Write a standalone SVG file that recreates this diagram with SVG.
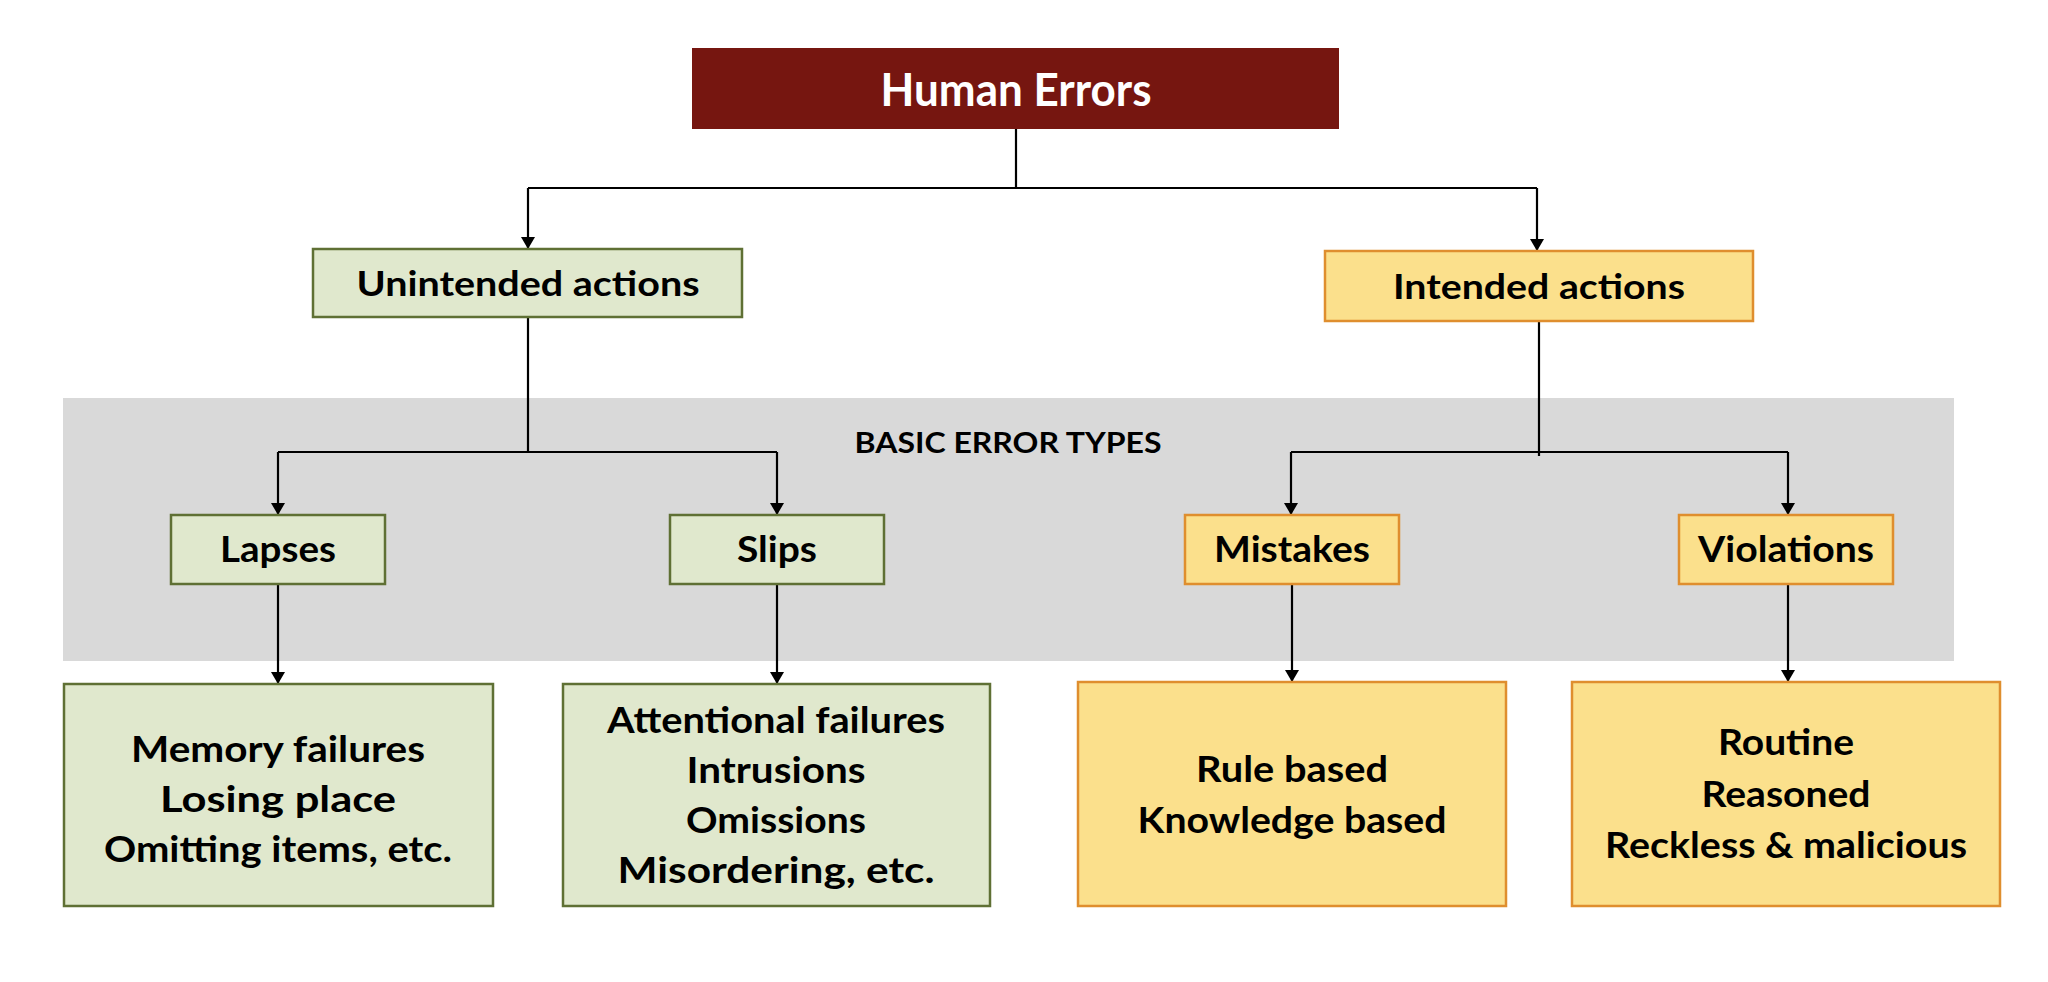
<svg xmlns="http://www.w3.org/2000/svg" width="2048" height="982" viewBox="0 0 2048 982">
<style>
.t{font-family:Lato,"Open Sans","Liberation Sans",sans-serif;font-weight:bold;fill:#000;text-anchor:middle}
.g{fill:#e0e8cd;stroke:#5f7034;stroke-width:2.5}
.y{fill:#fbe08c;stroke:#df8e2e;stroke-width:2.5}
.c{fill:none;stroke:#000;stroke-width:2.2}
</style>
<defs>
<marker id="ah" viewBox="0 0 12 14" refX="12" refY="7" markerWidth="12" markerHeight="14" markerUnits="userSpaceOnUse" orient="auto">
<path d="M0,0 L12,7 L0,14 z" fill="#000"/>
</marker>
</defs>
<rect width="2048" height="982" fill="#fff"/>
<g id="band">
<rect x="63" y="398" width="1891" height="263" fill="#d9d9d9"/>
<text class="t" x="1008" y="453" font-size="29" textLength="307" lengthAdjust="spacingAndGlyphs">BASIC ERROR TYPES</text>
</g>
<g id="connectors">
<path class="c" d="M1016,129 V188 M528,188 H1537"/>
<path class="c" d="M528,188 V249" marker-end="url(#ah)"/>
<path class="c" d="M1537,188 V251" marker-end="url(#ah)"/>
<path class="c" d="M528,317 V452 M278,452 H777"/>
<path class="c" d="M278,452 V515" marker-end="url(#ah)"/>
<path class="c" d="M777,452 V515" marker-end="url(#ah)"/>
<path class="c" d="M1539,321 V456 M1291,452 H1788"/>
<path class="c" d="M1291,452 V515" marker-end="url(#ah)"/>
<path class="c" d="M1788,452 V515" marker-end="url(#ah)"/>
<path class="c" d="M278,584 V684" marker-end="url(#ah)"/>
<path class="c" d="M777,584 V684" marker-end="url(#ah)"/>
<path class="c" d="M1292,584 V682" marker-end="url(#ah)"/>
<path class="c" d="M1788,584 V682" marker-end="url(#ah)"/>
</g>
<g id="human-errors">
<rect x="692" y="48" width="647" height="81" fill="#761610"/>
<text class="t" x="1016" y="106" font-size="45" style="fill:#fff" textLength="271" lengthAdjust="spacingAndGlyphs">Human Errors</text>
</g>
<g id="unintended">
<rect class="g" x="313" y="249" width="429" height="68"/>
<text class="t" x="528" y="296" font-size="35" textLength="343" lengthAdjust="spacingAndGlyphs">Unintended actions</text>
</g>
<g id="intended">
<rect class="y" x="1325" y="251" width="428" height="70"/>
<text class="t" x="1539" y="299" font-size="35" textLength="292" lengthAdjust="spacingAndGlyphs">Intended actions</text>
</g>
<g id="lapses">
<rect class="g" x="171" y="515" width="214" height="69"/>
<text class="t" x="278" y="562" font-size="37" textLength="116" lengthAdjust="spacingAndGlyphs">Lapses</text>
</g>
<g id="slips">
<rect class="g" x="670" y="515" width="214" height="69"/>
<text class="t" x="777" y="562" font-size="37" textLength="80" lengthAdjust="spacingAndGlyphs">Slips</text>
</g>
<g id="mistakes">
<rect class="y" x="1185" y="515" width="214" height="69"/>
<text class="t" x="1292" y="562" font-size="37" textLength="156" lengthAdjust="spacingAndGlyphs">Mistakes</text>
</g>
<g id="violations">
<rect class="y" x="1679" y="515" width="214" height="69"/>
<text class="t" x="1786" y="562" font-size="37" textLength="176" lengthAdjust="spacingAndGlyphs">Violations</text>
</g>
<g id="lapses-detail">
<rect class="g" x="64" y="684" width="429" height="222"/>
<text class="t" x="278" y="762" font-size="37" textLength="294" lengthAdjust="spacingAndGlyphs">Memory failures</text>
<text class="t" x="278" y="812" font-size="37" textLength="236" lengthAdjust="spacingAndGlyphs">Losing place</text>
<text class="t" x="278" y="862" font-size="37" textLength="348" lengthAdjust="spacingAndGlyphs">Omitting items, etc.</text>
</g>
<g id="slips-detail">
<rect class="g" x="563" y="684" width="427" height="222"/>
<text class="t" x="776" y="733" font-size="37" textLength="338" lengthAdjust="spacingAndGlyphs">Attentional failures</text>
<text class="t" x="776" y="783" font-size="37" textLength="179" lengthAdjust="spacingAndGlyphs">Intrusions</text>
<text class="t" x="776" y="833" font-size="37" textLength="180" lengthAdjust="spacingAndGlyphs">Omissions</text>
<text class="t" x="776" y="883" font-size="37" textLength="317" lengthAdjust="spacingAndGlyphs">Misordering, etc.</text>
</g>
<g id="mistakes-detail">
<rect class="y" x="1078" y="682" width="428" height="224"/>
<text class="t" x="1292" y="782" font-size="37" textLength="192" lengthAdjust="spacingAndGlyphs">Rule based</text>
<text class="t" x="1292" y="833" font-size="37" textLength="309" lengthAdjust="spacingAndGlyphs">Knowledge based</text>
</g>
<g id="violations-detail">
<rect class="y" x="1572" y="682" width="428" height="224"/>
<text class="t" x="1786" y="755" font-size="37" textLength="136" lengthAdjust="spacingAndGlyphs">Routine</text>
<text class="t" x="1786" y="807" font-size="37" textLength="169" lengthAdjust="spacingAndGlyphs">Reasoned</text>
<text class="t" x="1786" y="858" font-size="37" textLength="362" lengthAdjust="spacingAndGlyphs">Reckless &amp; malicious</text>
</g>
</svg>
